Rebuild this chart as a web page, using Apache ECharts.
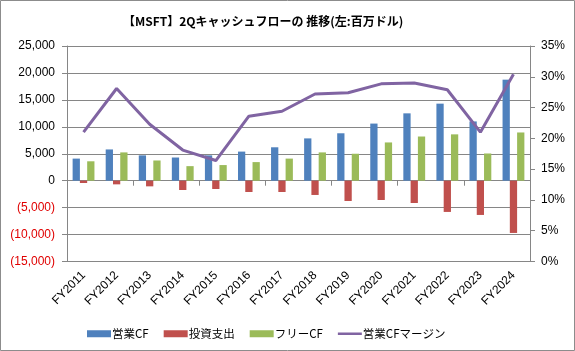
<!DOCTYPE html>
<html>
<head>
<meta charset="utf-8">
<script src="https://cdn.jsdelivr.net/npm/echarts@6/dist/echarts.min.js"></script>
<style>
  html, body { margin: 0; padding: 0; background: #fff; }
  #chart { width: 575px; height: 351px; }
</style>
</head>
<body>
<div id="chart"></div>
<script>
// MSFT Q2 cash flow (million USD) and operating CF margin (%)
const years = ['FY2011', 'FY2012', 'FY2013', 'FY2014', 'FY2015', 'FY2016', 'FY2017',
  'FY2018', 'FY2019', 'FY2020', 'FY2021', 'FY2022', 'FY2023', 'FY2024'];
const operatingCF = [4100, 5800, 4700, 4300, 4700, 5400, 6200, 7850, 8800, 10600, 12500, 14300, 11000, 18750];
const capex = [-430, -680, -1050, -1730, -1540, -2100, -2100, -2650, -3770, -3580, -4140, -5800, -6360, -9700];
const freeCF = [3600, 5250, 3750, 2700, 2900, 3450, 4100, 5250, 5000, 7100, 8200, 8600, 5050, 8950];
const cfMargin = [21.0, 28.1, 22.3, 18.1, 16.4, 23.6, 24.4, 27.2, 27.4, 28.85, 29.0, 27.9, 21.0, 30.4];

const gridColor = '#868686';
const numFont = 'Liberation Sans';
const jpFont = '"Noto Sans CJK JP", sans-serif';

// thin line icon for the margin series legend (specks at top/bottom keep the box 24x7)
const lineIcon = 'path://M0,0H0.01V0.01H0Z M0,2.2H24V4.8H0Z M0,7H0.01V7.01H0Z';

const chart = echarts.init(document.getElementById('chart'));

const fmt = v => Math.abs(v).toLocaleString('en-US');

const option = {
  backgroundColor: '#fff',
  animation: false,
  title: {
    text: '【MSFT】2Qキャッシュフローの 推移(左:百万ドル)',
    left: 118,
    top: 10,
    textStyle: { fontFamily: jpFont, fontSize: 12, fontWeight: 'bold', color: '#000' }
  },
  graphic: [{
    type: 'rect',
    shape: { x: 0.5, y: 0.5, width: 574, height: 350 },
    style: { fill: 'none', stroke: '#8c8c8c', lineWidth: 1 },
    silent: true
  }],
  legend: {
    left: 82,
    top: 323,
    itemWidth: 24,
    itemHeight: 7,
    itemGap: 15,
    textStyle: { fontFamily: jpFont, fontSize: 11.5, color: '#000', padding: [0, 0, 0, -4] },
    data: [
      { name: '営業CF', icon: 'rect' },
      { name: '投資支出', icon: 'rect' },
      { name: 'フリーCF', icon: 'rect' },
      { name: '営業CFマージン', icon: lineIcon }
    ]
  },
  grid: { left: 67, right: 45, top: 46, bottom: 89.5 },
  xAxis: [
    {
      type: 'category',
      data: years,
      position: 'bottom',
      axisLine: { show: false, onZero: false },
      axisTick: { show: false },
      axisLabel: {
        rotate: 45,
        margin: 12,
        fontFamily: numFont,
        fontSize: 12,
        color: '#000'
      }
    },
    {
      type: 'category',
      data: years,
      position: 'bottom',
      axisLine: { show: true, onZero: true, onZeroAxisIndex: 0, lineStyle: { color: gridColor, width: 1 } },
      axisTick: { show: true, length: 5, lineStyle: { color: gridColor } },
      axisLabel: { show: false }
    }
  ],
  yAxis: [
    {
      type: 'value',
      min: -15000,
      max: 25000,
      interval: 5000,
      axisLine: { show: true, lineStyle: { color: gridColor } },
      axisTick: { show: true, length: 5, lineStyle: { color: gridColor } },
      splitLine: { show: true, lineStyle: { color: gridColor, width: 1 } },
      axisLabel: {
        margin: 12,
        fontFamily: numFont,
        fontSize: 12,
        color: '#000',
        formatter: v => v < 0 ? '{neg|(' + fmt(v) + ')}' : fmt(v),
        rich: { neg: { color: '#e00000', fontFamily: numFont, fontSize: 12 } }
      }
    },
    {
      type: 'value',
      min: 0,
      max: 35,
      interval: 5,
      position: 'right',
      axisLine: { show: true, lineStyle: { color: gridColor } },
      axisTick: { show: true, length: 5, lineStyle: { color: gridColor } },
      splitLine: { show: false },
      axisLabel: {
        margin: 11,
        fontFamily: numFont,
        fontSize: 12,
        color: '#000',
        formatter: '{value}%'
      }
    }
  ],
  series: [
    {
      name: '営業CF',
      type: 'bar',
      barGap: '0%',
      barCategoryGap: '34%',
      data: operatingCF,
      itemStyle: { color: '#4f81bd' }
    },
    {
      name: '投資支出',
      type: 'bar',
      data: capex,
      itemStyle: { color: '#c0504d' }
    },
    {
      name: 'フリーCF',
      type: 'bar',
      data: freeCF,
      itemStyle: { color: '#9bbb59' }
    },
    {
      name: '営業CFマージン',
      type: 'line',
      yAxisIndex: 1,
      symbol: 'none',
      data: cfMargin,
      lineStyle: { color: '#8064a2', width: 3 },
      itemStyle: { color: '#8064a2' },
      z: 5
    }
  ]
};

chart.setOption(option);
</script>
</body>
</html>
